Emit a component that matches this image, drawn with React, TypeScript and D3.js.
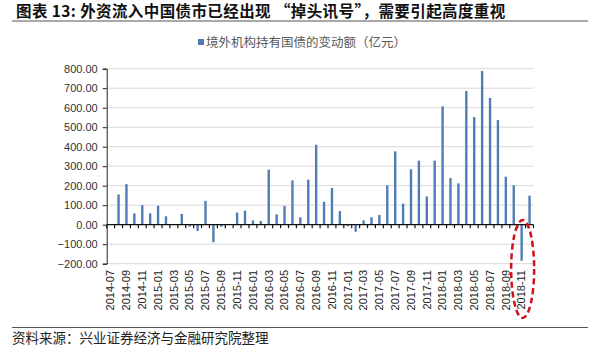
import { useEffect, useRef } from 'react'
import * as d3 from 'd3'

const months = [
  '2014-07', '2014-08', '2014-09', '2014-10', '2014-11', '2014-12',
  '2015-01', '2015-02', '2015-03', '2015-04', '2015-05', '2015-06',
  '2015-07', '2015-08', '2015-09', '2015-10', '2015-11', '2015-12',
  '2016-01', '2016-02', '2016-03', '2016-04', '2016-05', '2016-06',
  '2016-07', '2016-08', '2016-09', '2016-10', '2016-11', '2016-12',
  '2017-01', '2017-02', '2017-03', '2017-04', '2017-05', '2017-06',
  '2017-07', '2017-08', '2017-09', '2017-10', '2017-11', '2017-12',
  '2018-01', '2018-02', '2018-03', '2018-04', '2018-05', '2018-06',
  '2018-07', '2018-08', '2018-09', '2018-10', '2018-11', '2018-12',
]

// 境外机构持有国债的变动额（亿元）
const changes = [
  0, 155, 208, 58, 100, 58,
  97, 43, 0, 55, -10, -32,
  122, -90, -10, 0, 62, 72,
  22, 19, 282, 53, 96, 227,
  38, 231, 410, 118, 188, 70,
  -8, -36, 22, 38, 50, 202,
  376, 108, 284, 328, 145, 328,
  607, 239, 212, 686, 552, 788,
  650, 537, 246, 202, -185, 149,
]

const yTicks = [-200, -100, 0, 100, 200, 300, 400, 500, 600, 700, 800]
const highlightMonth = '2018-11'

const W = 600
const H = 351

export default function App() {
  const svgRef = useRef<SVGSVGElement>(null)

  useEffect(() => {
    if (!svgRef.current) return
    const svg = d3.select(svgRef.current)
    svg.selectAll('*').remove()

    const left = 106.7
    const right = 533.5
    const top = 68.7
    const bottom = 263.7

    const x = d3.scaleBand<string>().domain(months).range([left, right]).paddingInner(0).paddingOuter(0)
    const y = d3.scaleLinear().domain([-200, 800]).range([bottom, top])

    // title
    svg
      .append('text')
      .attr('x', 16)
      .attr('y', 17)
      .attr('font-family', '"Noto Sans CJK SC", sans-serif')
      .attr('font-weight', 700)
      .attr('font-size', '15.5px')
      .attr('letter-spacing', '0.4px')
      .attr('fill', '#111')
      .text('图表 13: 外资流入中国债市已经出现 “掉头讯号”，需要引起高度重视')

    svg
      .append('line')
      .attr('x1', 12)
      .attr('x2', 588)
      .attr('y1', 21)
      .attr('y2', 21)
      .attr('stroke', '#555')
      .attr('stroke-width', 1.2)

    // legend
    const legend = svg.append('g').attr('transform', 'translate(198,43)')
    legend
      .append('rect')
      .attr('x', 0)
      .attr('y', -4)
      .attr('width', 6)
      .attr('height', 6)
      .attr('fill', '#4F7CB4')
    legend
      .append('text')
      .attr('x', 8)
      .attr('y', 4)
      .attr('font-family', '"Noto Sans CJK SC", sans-serif')
      .attr('font-size', '12.5px')
      .attr('fill', '#595959')
      .text('境外机构持有国债的变动额（亿元）')

    // gridlines
    svg
      .append('g')
      .selectAll('line')
      .data(yTicks.filter((t) => t !== 0))
      .enter()
      .append('line')
      .attr('x1', left)
      .attr('x2', right)
      .attr('y1', (d) => y(d))
      .attr('y2', (d) => y(d))
      .attr('stroke', '#d9d9d9')
      .attr('stroke-width', 1)

    // y axis
    const yAxis = svg
      .append('g')
      .attr('transform', `translate(${left},0)`)
      .call(d3.axisLeft(y).tickValues(yTicks).tickFormat(d3.format('.2f')).tickSize(4).tickPadding(5))
    yAxis.select('.domain').attr('stroke', '#222')
    yAxis.selectAll('line').attr('stroke', '#222')
    yAxis
      .selectAll('text')
      .attr('font-family', '"Liberation Sans", Arial, sans-serif')
      .attr('font-size', '11px')
      .attr('fill', '#333')

    // bars
    const bw = x.bandwidth() * 0.3
    svg
      .append('g')
      .selectAll('rect')
      .data(changes)
      .enter()
      .append('rect')
      .attr('x', (_, i) => (x(months[i]) as number) + x.bandwidth() / 2 - bw / 2)
      .attr('y', (d) => y(Math.max(0, d)))
      .attr('width', bw)
      .attr('height', (d) => Math.abs(y(d) - y(0)))
      .attr('fill', '#4F7CB4')

    // x axis at zero
    const zeroY = y(0)
    svg
      .append('line')
      .attr('x1', left)
      .attr('x2', right)
      .attr('y1', zeroY)
      .attr('y2', zeroY)
      .attr('stroke', '#111')
      .attr('stroke-width', 1.2)
    svg
      .append('g')
      .selectAll('line')
      .data(months.concat(['end']))
      .enter()
      .append('line')
      .attr('x1', (d, i) => (i < months.length ? (x(d) as number) : right))
      .attr('x2', (d, i) => (i < months.length ? (x(d) as number) : right))
      .attr('y1', zeroY)
      .attr('y2', zeroY + 3.5)
      .attr('stroke', '#111')
      .attr('stroke-width', 1.2)

    // x labels
    svg
      .append('g')
      .selectAll('text')
      .data(months.filter((_, i) => i % 2 === 0))
      .enter()
      .append('text')
      .attr('transform', (d) => `translate(${(x(d) as number) + x.bandwidth() / 2 + 3.8},270) rotate(-90)`)
      .attr('text-anchor', 'end')
      .attr('font-family', '"Liberation Sans", Arial, sans-serif')
      .attr('font-size', '11px')
      .attr('fill', '#222')
      .text((d) => d)

    // highlight ellipse
    const hx = (x(highlightMonth) as number) + x.bandwidth() / 2
    svg
      .append('ellipse')
      .attr('cx', hx + 1)
      .attr('cy', 269)
      .attr('rx', 11.5)
      .attr('ry', 49)
      .attr('fill', 'none')
      .attr('stroke', '#d0111b')
      .attr('stroke-width', 2.5)
      .attr('stroke-dasharray', '6,3.5')

    // footer
    svg
      .append('line')
      .attr('x1', 12)
      .attr('x2', 588)
      .attr('y1', 327.5)
      .attr('y2', 327.5)
      .attr('stroke', '#555')
      .attr('stroke-width', 1.2)

    svg
      .append('text')
      .attr('x', 12)
      .attr('y', 343)
      .attr('font-family', '"Noto Sans CJK SC", sans-serif')
      .attr('font-size', '13.5px')
      .attr('fill', '#222')
      .text('资料来源：兴业证券经济与金融研究院整理')
  }, [])

  return (
    <svg
      ref={svgRef}
      width={W}
      height={H}
      style={{ position: 'absolute', left: 0, top: 0, background: '#fff', display: 'block' }}
    />
  )
}
